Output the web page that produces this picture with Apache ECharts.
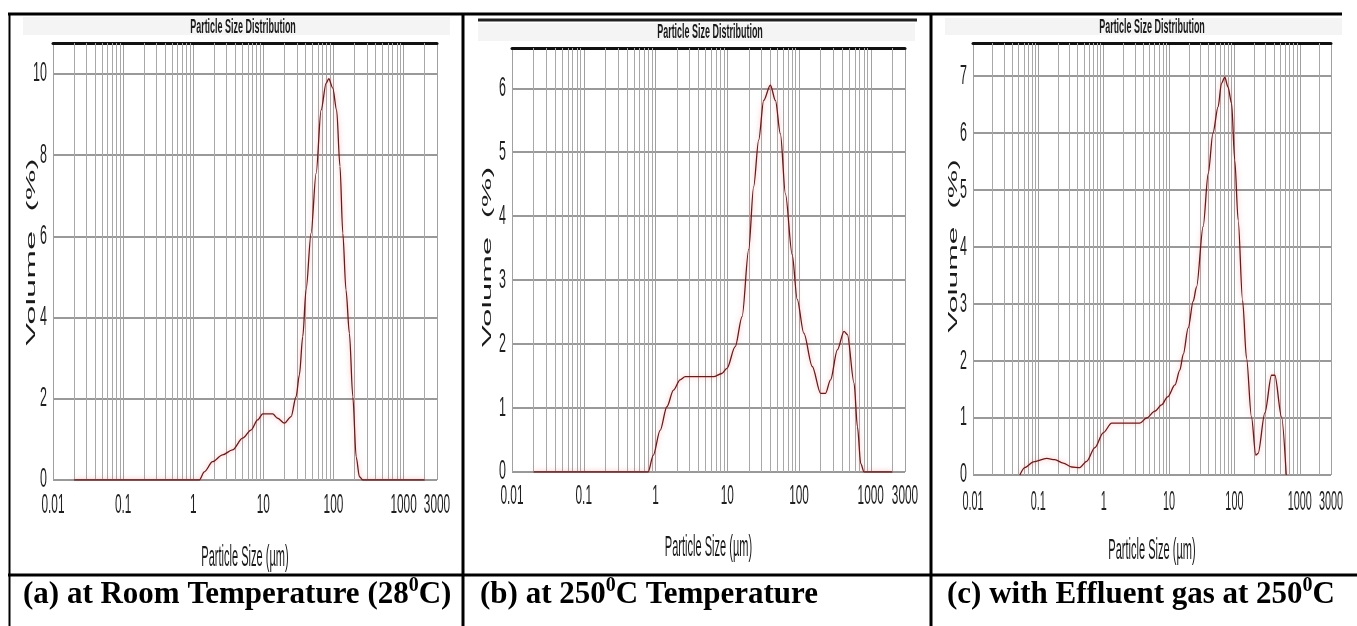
<!DOCTYPE html>
<html>
<head>
<meta charset="utf-8">
<script src="https://cdn.jsdelivr.net/npm/echarts@6/dist/echarts.min.js"></script>
<style>
html,body{margin:0;padding:0;background:#fff;}
#c{width:1357px;height:626px;}
</style>
</head>
<body>
<div id="c"></div>
<script>
// ---------- data (particle size in µm, volume in %) ----------
const sizesA = [0.02, 0.05, 0.1, 0.2, 0.5, 1.0, 1.22, 1.44, 1.89, 2.62, 3.63, 5.06, 6.66, 8.3, 9.8, 13.6, 16, 20, 24.9, 29.3, 32.7, 36.5, 40.7, 48, 56.6, 66.7, 78.7, 85.8, 97.8, 111, 124, 136, 151, 169, 189, 211, 235, 263, 500, 1000, 2000];
const volumeA = [0, 0, 0, 0, 0, 0, 0, 0.2, 0.45, 0.62, 0.74, 1.03, 1.23, 1.48, 1.63, 1.63, 1.52, 1.40, 1.56, 2.05, 2.59, 3.53, 4.68, 6.08, 7.55, 9.11, 9.77, 9.88, 9.65, 9.11, 7.72, 6.08, 4.68, 3.61, 2.05, 0.57, 0.08, 0, 0, 0, 0];

const sizesB = [0.02, 0.05, 0.1, 0.2, 0.5, 0.79, 0.93, 1.16, 1.44, 1.78, 2.2, 2.59, 4, 6.45, 8.4, 9.9, 12.9, 16.1, 19.9, 23.3, 27.4, 32.2, 39.9, 46.9, 55, 64.7, 80.3, 94.4, 116.7, 153, 200, 234, 275, 342, 424, 472, 585, 652, 725, 807, 1000, 2000];
const volumeB = [0, 0, 0, 0, 0, 0, 0.26, 0.65, 1.02, 1.28, 1.44, 1.49, 1.49, 1.49, 1.54, 1.62, 1.96, 2.43, 3.48, 4.46, 5.19, 5.81, 6.05, 5.81, 5.29, 4.35, 3.4, 2.70, 2.17, 1.65, 1.23, 1.23, 1.44, 1.91, 2.20, 2.15, 1.39, 0.71, 0.13, 0, 0, 0];

const sizesC = [0.052, 0.062, 0.084, 0.134, 0.179, 0.24, 0.323, 0.43, 0.547, 0.733, 0.98, 1.32, 2.5, 3.57, 4.52, 6.06, 7.67, 9.5, 12.3, 14.6, 16.5, 19.6, 23.4, 26.3, 33.2, 39.7, 46.9, 56.2, 63.3, 71.2, 79.6, 90.4, 101, 114, 133, 153, 182, 212, 230, 292, 369, 415, 525, 620];
const volumeC = [0, 0.13, 0.23, 0.29, 0.27, 0.21, 0.14, 0.13, 0.24, 0.48, 0.74, 0.91, 0.91, 0.91, 1.0, 1.12, 1.23, 1.37, 1.58, 1.84, 2.12, 2.58, 3.05, 3.3, 4.36, 5.29, 6.0, 6.46, 6.87, 6.98, 6.81, 6.52, 5.53, 4.47, 3.07, 2.05, 1.02, 0.35, 0.38, 1.09, 1.75, 1.75, 1.02, 0];

// ---------- axis ticks / labels ----------
const xTickValues = [0.01, 0.1, 1, 10, 100, 1000, 3000];
const xTickLabels = ['0.01', '0.1', '1', '10', '100', '1000', '3000'];
const yTickValuesA = [0, 2, 4, 6, 8, 10];
const yTickValuesB = [0, 1, 2, 3, 4, 5, 6];
const yTickValuesC = [0, 1, 2, 3, 4, 5, 6, 7];
const xMin = 0.01, xMax = 3000;
const decadeStarts = [0.01, 0.1, 1, 10, 100, 1000];
const minorSteps = [2, 3, 4, 5, 6, 7, 8, 9];
const yMax = [10.76, 6.63, 7.58];
const yInterval = [2, 1, 1];

// ---------- texts ----------
const chartTitle = 'Particle Size Distribution';
const xAxisTitle = 'Particle Size (µm)';
const yAxisTitle = 'Volume  (%)';
const captionParts = [
  ['(a) at Room Temperature (28', '0', 'C)'],
  ['(b) at 250', '0', 'C Temperature'],
  ['(c) with Effluent gas at 250', '0', 'C']
];

// ---------- layout ----------
const grids = [
  {left: 53, top: 43, width: 384, height: 437},
  {left: 512, top: 48, width: 393, height: 424},
  {left: 973, top: 43, width: 358, height: 432}
];
const NARROW = '"Liberation Sans Narrow", "Liberation Sans", Arial, sans-serif';
const TICK_FONT = '16px ' + NARROW;
const xLabelOffset = [26, 25, 28];
const xLabelScaleX = [0.74, 0.74, 0.68];
const minorGrid = decadeStarts.flatMap(d => minorSteps.map(m => +(d * m).toPrecision(3))).filter(v => v < xMax);
const yTickSets = [yTickValuesA, yTickValuesB, yTickValuesC];

const chart = echarts.init(document.getElementById('c'), null, {renderer: 'canvas'});

const xAxes = [], yAxes = [], series = [];
const sets = [[sizesA, volumeA], [sizesB, volumeB], [sizesC, volumeC]];
grids.forEach((g, i) => {
  xAxes.push({
    type: 'log', logBase: 10, gridIndex: i, min: xMin, max: xMax,
    axisLine: {show: false}, axisTick: {show: false}, axisLabel: {show: false},
    splitLine: {show: true, lineStyle: {color: '#a0a0a0', width: 1}}
  });
  xAxes.push({
    type: 'value', gridIndex: i, position: 'top', min: 0, max: 1,
    axisLine: {show: true, lineStyle: {color: '#111', width: 3}},
    axisTick: {show: false}, axisLabel: {show: false}, splitLine: {show: false}
  });
  yAxes.push({
    type: 'value', gridIndex: i, min: 0, max: yMax[i], interval: yInterval[i],
    axisLine: {show: false}, axisTick: {show: false}, axisLabel: {show: false},
    splitLine: {show: true, lineStyle: {color: '#999', width: 2}}
  });
  // distribution curve
  series.push({
    type: 'line', xAxisIndex: i * 2, yAxisIndex: i,
    data: sets[i][0].map((s, k) => [s, sets[i][1][k]]),
    showSymbol: false, smooth: 0.3, smoothMonotone: 'x', z: 3,
    lineStyle: {color: '#7a1414', width: 1.3, shadowColor: 'rgba(235,90,90,0.5)', shadowBlur: 5},
    markLine: {
      silent: true, symbol: ['none', 'none'], z: 1, animation: false,
      label: {show: false},
      lineStyle: {color: '#a8a8a8', width: 1, type: 'solid'},
      emphasis: {disabled: true},
      data: minorGrid.map(v => ({xAxis: v}))
    }
  });
  // x tick labels (condensed, placed through the axis scale)
  series.push({
    type: 'custom', xAxisIndex: i * 2, yAxisIndex: i, clip: false, silent: true, z: 5,
    data: xTickValues.map((v, k) => [v, 0, k]),
    renderItem: function (params, api) {
      const p = api.coord([api.value(0), 0]);
      return {type: 'text', x: p[0], y: p[1] + xLabelOffset[i], scaleX: xLabelScaleX[i], scaleY: 1.7,
        style: {text: xTickLabels[api.value(2)], font: TICK_FONT, fill: '#1f1f1f', align: 'center', verticalAlign: 'middle'}};
    }
  });
  // y tick labels
  series.push({
    type: 'custom', xAxisIndex: i * 2, yAxisIndex: i, clip: false, silent: true, z: 5,
    data: yTickSets[i].map(v => [xMin, v]),
    renderItem: function (params, api) {
      const p = api.coord([xMin, api.value(1)]);
      return {type: 'text', x: p[0] - 6, y: p[1], scaleX: 0.78, scaleY: 1.7,
        style: {text: String(api.value(1)), font: TICK_FONT, fill: '#1f1f1f', align: 'right', verticalAlign: 'middle'}};
    }
  });
});

function sText(x, y, text, font, sx, sy, rot) {
  return {type: 'text', x: x, y: y, rotation: rot || 0, scaleX: sx, scaleY: sy, silent: true, z: 10,
    style: {text: text, font: font, fill: '#1a1a1a', align: 'center', verticalAlign: 'middle'}};
}
function hLine(x1, x2, y, w, c) {
  return {type: 'line', silent: true, z: 20, shape: {x1: x1, y1: y, x2: x2, y2: y}, style: {stroke: c || '#000', lineWidth: w}};
}
function vLine(x, y1, y2, w) {
  return {type: 'line', silent: true, z: 20, shape: {x1: x, y1: y1, x2: x, y2: y2}, style: {stroke: '#000', lineWidth: w}};
}

const titleX = [243, 710, 1152], titleY = [28, 33, 28];
const xNameY = [558, 548, 551];
const yNameX = [31, 487, 953], yNameY = [252, 257, 246], yNameSX = [2.65, 2.55, 2.45];
const capX = [23, 480, 947];

const graphic = [
  {type: 'rect', silent: true, z: 0, shape: {x: 23, y: 17, width: 427, height: 18}, style: {fill: '#f4f4f4'}},
  {type: 'rect', silent: true, z: 0, shape: {x: 478, y: 23, width: 437, height: 18}, style: {fill: '#f4f4f4'}},
  {type: 'rect', silent: true, z: 0, shape: {x: 945, y: 18, width: 397, height: 17}, style: {fill: '#f4f4f4'}},
  hLine(8, 1342, 14, 3),
  hLine(478, 917, 20, 3, '#222'),
  hLine(8, 1357, 575, 3),
  vLine(9.5, 13, 626, 2),
  vLine(463, 13, 626, 3),
  vLine(931, 13, 626, 3)
];
grids.forEach((g, i) => {
  const cx = g.left + g.width / 2;
  graphic.push(sText(titleX[i], titleY[i], chartTitle, 'bold 13px ' + NARROW, 0.69, 1.5));
  graphic.push(sText(cx, xNameY[i], xAxisTitle, '16px ' + NARROW, 0.69, 1.8));
  graphic.push(sText(yNameX[i], yNameY[i], yAxisTitle, '13px "Liberation Sans", Arial, sans-serif', yNameSX[i], 1.0, Math.PI / 2));
  const p = captionParts[i];
  graphic.push({
    type: 'text', x: capX[i], y: 595, silent: true, z: 10,
    style: {
      text: '{m|' + p[0] + '}{s|' + p[1] + '}{m|' + p[2] + '}',
      align: 'left', verticalAlign: 'middle',
      rich: {
        m: {font: 'bold 31px "Liberation Serif", "Times New Roman", serif', fill: '#000', lineHeight: 38},
        s: {font: 'bold 20px "Liberation Serif", "Times New Roman", serif', fill: '#000', lineHeight: 20, verticalAlign: 'top'}
      }
    }
  });
});

chart.setOption({
  animation: false,
  backgroundColor: '#fff',
  grid: grids.map(g => Object.assign({outerBoundsMode: 'none', containLabel: false}, g)),
  xAxis: xAxes,
  yAxis: yAxes,
  series: series,
  graphic: graphic
});
</script>
</body>
</html>
